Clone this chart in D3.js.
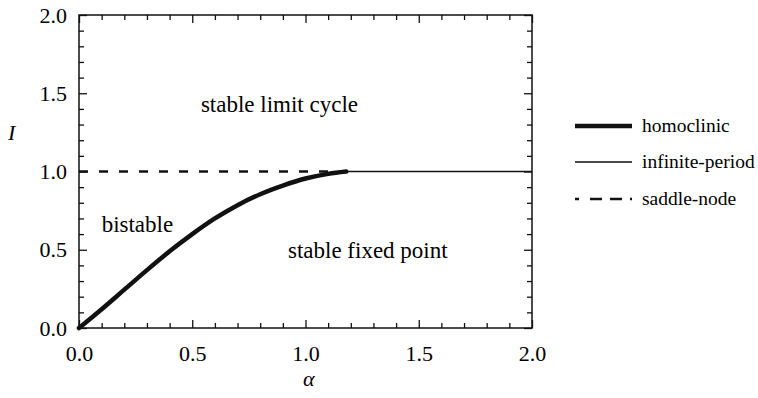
<!DOCTYPE html>
<html><head><meta charset="utf-8">
<script src="https://cdn.jsdelivr.net/npm/d3@7"></script>
</head><body style="margin:0"><svg id="c" width="758" height="398"></svg>
<script>
const xTicks = [0, 0.5, 1.0, 1.5, 2.0];
const yTicks = [0, 0.5, 1.0, 1.5, 2.0];
const homoAlpha = [0, 0.1, 0.2, 0.3, 0.4, 0.5, 0.6, 0.7, 0.8, 0.9, 1.0, 1.1, 1.18];
const homoI     = [0, 0.12, 0.245, 0.37, 0.49, 0.60, 0.70, 0.785, 0.855, 0.91, 0.955, 0.985, 1.0];
const infAlpha = [1.18, 2.0];
const infI     = [1.0, 1.0];
const snAlpha = [0, 1.18];
const snI     = [1.0, 1.0];
const regionLabels = ["stable limit cycle", "bistable", "stable fixed point"];
const regionAlpha = [0.885, 0.1, 1.275];
const regionI = [1.38, 0.615, 0.447];
const legendLabels = ["homoclinic", "infinite-period", "saddle-node"];

const FONT = '"Liberation Serif"';
const svg = d3.select("#c");
const x = d3.scaleLinear().domain([0, 2]).range([79, 532]);
const y = d3.scaleLinear().domain([0, 2]).range([328, 15]);
const g = svg.append("g");
const minor = d3.range(0, 2.0001, 0.1);

g.append("rect").attr("x", 79).attr("y", 15).attr("width", 453).attr("height", 313)
  .attr("fill", "none").attr("stroke", "#111").attr("stroke-width", 1.5);
const isMajor = v => Math.abs(v*2 - Math.round(v*2)) < 1e-6;
g.append("g").attr("transform", "translate(0,328)")
  .call(d3.axisTop(x).tickValues(minor).tickSizeInner(0).tickSizeOuter(0).tickFormat(""))
  .call(s => { s.select(".domain").remove(); s.selectAll(".tick line").attr("y2", d => isMajor(d) ? -8 : -5).attr("stroke","#111").attr("stroke-width",1.3); });
g.append("g").attr("transform", "translate(0,15)")
  .call(d3.axisBottom(x).tickValues(minor).tickSizeInner(0).tickSizeOuter(0).tickFormat(""))
  .call(s => { s.select(".domain").remove(); s.selectAll(".tick line").attr("y2", d => isMajor(d) ? 8 : 5).attr("stroke","#111").attr("stroke-width",1.3); });
g.append("g").attr("transform", "translate(79,0)")
  .call(d3.axisRight(y).tickValues(minor).tickSizeInner(0).tickSizeOuter(0).tickFormat(""))
  .call(s => { s.select(".domain").remove(); s.selectAll(".tick line").attr("x2", d => isMajor(d) ? 8 : 5).attr("stroke","#111").attr("stroke-width",1.3); });
g.append("g").attr("transform", "translate(532,0)")
  .call(d3.axisLeft(y).tickValues(minor).tickSizeInner(0).tickSizeOuter(0).tickFormat(""))
  .call(s => { s.select(".domain").remove(); s.selectAll(".tick line").attr("x2", d => isMajor(d) ? -8 : -5).attr("stroke","#111").attr("stroke-width",1.3); });
g.append("g").attr("transform", "translate(0,328)")
  .call(d3.axisBottom(x).tickValues(xTicks).tickSize(0).tickPadding(17).tickFormat(d3.format(".1f")))
  .call(s => { s.attr("font-family", null).attr("font-size", null); s.select(".domain").remove(); s.selectAll("text").style("font-family", FONT).style("font-size", "22px"); });
g.append("g").attr("transform", "translate(79,0)")
  .call(d3.axisLeft(y).tickValues(yTicks).tickSize(0).tickPadding(12).tickFormat(d3.format(".1f")))
  .call(s => { s.attr("font-family", null).attr("font-size", null); s.select(".domain").remove(); s.selectAll("text").style("font-family", FONT).style("font-size", "22px"); });

svg.append("text").attr("x", 303).attr("y", 386).style("font-family", FONT).style("font-size", "22px").style("font-style", "italic").text("α");
svg.append("text").attr("x", 8).attr("y", 140).style("font-family", FONT).style("font-size", "22px").style("font-style", "italic").text("I");

const line = d3.line().x(d => x(d[0])).y(d => y(d[1]));
const curve = d3.line().x(d => x(d[0])).y(d => y(d[1])).curve(d3.curveCatmullRom.alpha(0.5));
g.append("path").datum(snAlpha.map((a,i)=>[a,snI[i]])).attr("d", line)
  .attr("fill","none").attr("stroke","#111").attr("stroke-width",2.5).attr("stroke-dasharray","9,11");
g.append("path").datum(infAlpha.map((a,i)=>[a,infI[i]])).attr("d", line)
  .attr("fill","none").attr("stroke","#111").attr("stroke-width",1.6);
g.append("path").datum(homoAlpha.map((a,i)=>[a,homoI[i]])).attr("d", curve)
  .attr("fill","none").attr("stroke","#111").attr("stroke-width",4.5).attr("stroke-linecap","round");

regionLabels.forEach((t,i)=>{
  svg.append("text").attr("x", x(regionAlpha[i])).attr("y", y(regionI[i])).attr("text-anchor", i===1?"start":"middle")
    .style("font-family", FONT).style("font-size", "23px").text(t);
});

const lg = svg.append("g");
const widths = [4.5, 1.6, 2.5];
const dashes = [null, null, "4,11,12,8,12,8"];
const ly = [126, 162, 199];
legendLabels.forEach((t,i)=>{
  lg.append("line").attr("x1", 575).attr("x2", 632).attr("y1", ly[i]).attr("y2", ly[i])
    .attr("stroke","#111").attr("stroke-width", widths[i]).attr("stroke-dasharray", dashes[i]);
  lg.append("text").attr("x", 642).attr("y", ly[i]+6).style("font-family", FONT).style("font-size", "19.5px").text(t);
});
</script></body></html>
